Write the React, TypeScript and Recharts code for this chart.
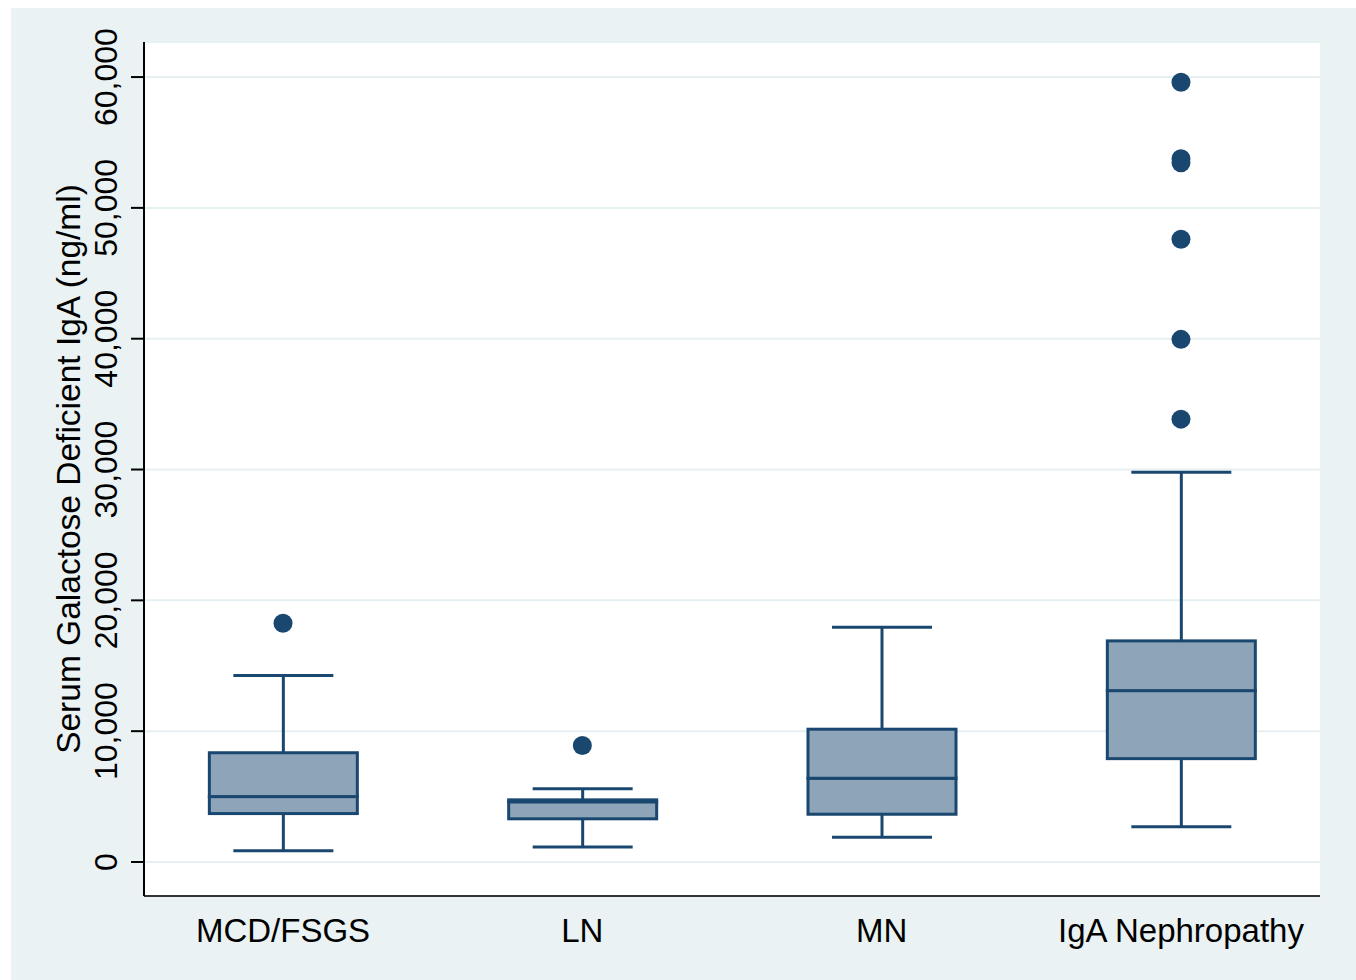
import React from "react";
import {
  ComposedChart,
  Bar,
  Scatter,
  XAxis,
  YAxis,
  CartesianGrid,
} from "recharts";

const categories = ["MCD/FSGS", "LN", "MN", "IgA Nephropathy"];
const whiskerLow = [850, 1150, 1900, 2700];
const q1 = [3700, 3300, 3650, 7900];
const median = [5000, 4600, 6400, 13100];
const q3 = [8350, 4750, 10150, 16900];
const whiskerHigh = [14250, 5600, 17950, 29800];

const outlierGroup = [1, 2, 4, 4, 4, 4, 4, 4];
const outlierValue = [18250, 8900, 33850, 39950, 47600, 53450, 53750, 59600];

const yTicks = [0, 10000, 20000, 30000, 40000, 50000, 60000];

const NAVY = "#1a476f";
const BOX_FILL = "#8ea4b8";
const FONT = "'Liberation Sans', Arial, sans-serif";

// stacked segments: invisible base, lower whisker, lower box, upper box, upper whisker
const rows = categories.map((name, i) => ({
  x: i + 1,
  name,
  base: whiskerLow[i],
  lowW: q1[i] - whiskerLow[i],
  boxLo: median[i] - q1[i],
  boxHi: q3[i] - median[i],
  upW: whiskerHigh[i] - q3[i],
}));

const outliers = outlierGroup.map((g, i) => ({ x: g, y: outlierValue[i] }));

const CAP = 100;

function LowWhisker(p: any) {
  const cx = p.x + p.width / 2;
  const bottom = p.y + p.height;
  return (
    <g>
      <line x1={cx} x2={cx} y1={p.y} y2={bottom} stroke={NAVY} strokeWidth={3} />
      <line x1={cx - CAP / 2} x2={cx + CAP / 2} y1={bottom} y2={bottom} stroke={NAVY} strokeWidth={3} />
    </g>
  );
}

function UpWhisker(p: any) {
  const cx = p.x + p.width / 2;
  return (
    <g>
      <line x1={cx} x2={cx} y1={p.y} y2={p.y + p.height} stroke={NAVY} strokeWidth={3} />
      <line x1={cx - CAP / 2} x2={cx + CAP / 2} y1={p.y} y2={p.y} stroke={NAVY} strokeWidth={3} />
    </g>
  );
}

function BoxPart(p: any) {
  return (
    <rect
      x={p.x}
      y={p.y}
      width={p.width}
      height={Math.max(p.height, 0)}
      fill={BOX_FILL}
      stroke={NAVY}
      strokeWidth={3}
    />
  );
}

function Dot(p: any) {
  return <circle cx={p.cx} cy={p.cy} r={9.5} fill={NAVY} />;
}

function YTick(p: any) {
  const { x, y, payload } = p;
  return (
    <text
      x={x}
      y={y}
      transform={`rotate(-90, ${x}, ${y})`}
      textAnchor="middle"
      fontFamily={FONT}
      fontSize={32}
      fill="#000"
    >
      {payload.value.toLocaleString("en-US")}
    </text>
  );
}

function XTick(p: any) {
  const { x, y, payload } = p;
  return (
    <text x={x} y={y + 46} textAnchor="middle" fontFamily={FONT} fontSize={33} fill="#000">
      {categories[payload.value - 1]}
    </text>
  );
}

function YTitle(p: any) {
  const vb = p.viewBox || { x: 0, y: 42, width: 144, height: 854 };
  const cx = vb.x + 80;
  const cy = vb.y + vb.height / 2;
  return (
    <text
      x={cx}
      y={cy}
      transform={`rotate(-90, ${cx}, ${cy})`}
      textAnchor="middle"
      fontFamily={FONT}
      fontSize={33.5}
      fill="#000"
    >
      Serum Galactose Deficient IgA (ng/ml)
    </text>
  );
}

export default function App() {
  return (
    <div style={{ position: "absolute", left: 0, top: 0, width: 1356, height: 980, background: "#fff" }}>
      <div
        style={{ position: "absolute", left: 11, top: 8, width: 1345, height: 972, background: "#eaf2f3" }}
      />
      <div style={{ position: "absolute", left: 0, top: 0 }}>
        <ComposedChart
          width={1356}
          height={980}
          data={rows}
          margin={{ top: 42, right: 36, bottom: 0, left: 0 }}
        >
          <CartesianGrid vertical={false} stroke="#e6eff2" strokeWidth={2} fill="#ffffff" />
          <XAxis
            type="number"
            dataKey="x"
            domain={[0.5356, 4.4644]}
            ticks={[1, 2, 3, 4]}
            allowDataOverflow
            height={84}
            tickSize={0}
            tickMargin={0}
            tickLine={false}
            axisLine={{ stroke: "#333", strokeWidth: 2 }}
            tick={<XTick />}
          />
          <YAxis
            type="number"
            domain={[-2600, 62680]}
            ticks={yTicks}
            allowDataOverflow
            width={144}
            tickSize={13}
            tickMargin={14}
            tickLine={{ stroke: "#000", strokeWidth: 2 }}
            axisLine={{ stroke: "#000", strokeWidth: 2 }}
            tick={<YTick />}
            label={YTitle}
          />
          <Bar dataKey="base" stackId="b" barSize={148} shape={() => <g />} isAnimationActive={false} />
          <Bar dataKey="lowW" stackId="b" barSize={148} shape={LowWhisker} isAnimationActive={false} />
          <Bar dataKey="boxLo" stackId="b" barSize={148} shape={BoxPart} isAnimationActive={false} />
          <Bar dataKey="boxHi" stackId="b" barSize={148} shape={BoxPart} isAnimationActive={false} />
          <Bar dataKey="upW" stackId="b" barSize={148} shape={UpWhisker} isAnimationActive={false} />
          <Scatter data={outliers} dataKey="y" shape={Dot} isAnimationActive={false} />
        </ComposedChart>
      </div>
    </div>
  );
}
